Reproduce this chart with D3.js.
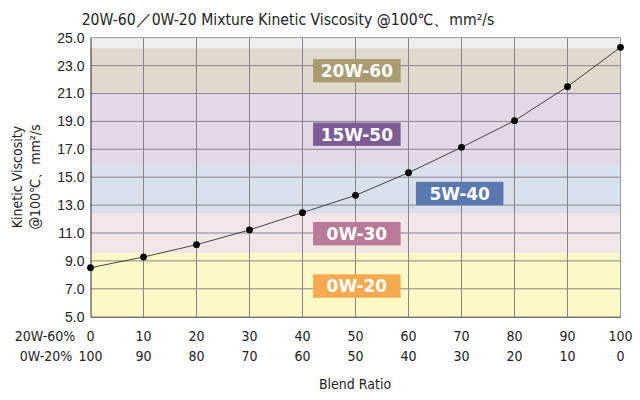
<!DOCTYPE html>
<html><head><meta charset="utf-8">
<script src="https://cdn.jsdelivr.net/npm/d3@7"></script>
<style>
html,body{margin:0;padding:0;background:#fff;}
svg{display:block;font-family:"DejaVu Sans Condensed","DejaVu Sans",Verdana,sans-serif;}
</style></head>
<body><svg id="c" width="640" height="400"></svg>
<script>
// ---- data ----
const ratio20W60 = [0,10,20,30,40,50,60,70,80,90,100];
const ratio0W20 = [100,90,80,70,60,50,40,30,20,10,0];
const viscosity = [8.51,9.28,10.16,11.22,12.46,13.70,15.32,17.14,19.05,21.49,24.31];
const yTicks = [5,7,9,11,13,15,17,19,21,23,25];
const bandNames = ["0W-20","0W-30","5W-40","15W-50","20W-60"];
const bandLow = [5.0,9.58,12.41,15.87,21.08];
const bandHigh = [9.58,12.41,15.87,21.08,24.24];
const bandFill = ["#fdf9c6","#f3e6e8","#d9e1ec","#e4d8e8","#e1d9cb"];
const labelFill = ["#f5aa50","#b97a9a","#5b78b1","#7c5d96","#a99b72"];
// label box anchor (left edge on blend axis, y value at box centre)
const labelX = [42,42,61.4,42,42];
const labelY = [7.2,10.95,13.83,18.08,22.63];

const svg = d3.select("#c");
const m = {l:90.5, r:620.5, t:37.7, b:316.7};
const x = d3.scaleLinear().domain([0,100]).range([m.l,m.r]);
const y = d3.scaleLinear().domain([5,25]).range([m.b,m.t]);

// plot background
svg.append("rect").attr("x",m.l).attr("y",m.t).attr("width",m.r-m.l).attr("height",m.b-m.t).attr("fill","#efefef");
// bands
svg.selectAll("rect.band").data(bandNames).join("rect").attr("class","band")
  .attr("x",m.l).attr("width",m.r-m.l)
  .attr("y",(d,i)=>y(bandHigh[i])).attr("height",(d,i)=>y(bandLow[i])-y(bandHigh[i]))
  .attr("fill",(d,i)=>bandFill[i]);

// grid
svg.append("g").selectAll("line").data(yTicks.slice(1,-1)).join("line")
  .attr("x1",m.l).attr("x2",m.r).attr("y1",d=>y(d)).attr("y2",d=>y(d))
  .attr("stroke","#8a8490").attr("stroke-width",1);
svg.append("g").selectAll("line").data(ratio20W60.slice(1,-1)).join("line")
  .attr("y1",m.t).attr("y2",m.b).attr("x1",d=>x(d)).attr("x2",d=>x(d))
  .attr("stroke","#8a8490").attr("stroke-width",1);
// frame
svg.append("line").attr("x1",m.l).attr("x2",m.r).attr("y1",m.t).attr("y2",m.t).attr("stroke","#9a9a9a");
svg.append("line").attr("x1",m.r).attr("x2",m.r).attr("y1",m.t).attr("y2",m.b).attr("stroke","#9a9a9a");

// label boxes
const lg = svg.append("g").selectAll("g").data(bandNames).join("g");
lg.append("rect").attr("x",(d,i)=>x(labelX[i])).attr("y",(d,i)=>y(labelY[i])-11.7)
  .attr("width",87.5).attr("height",23.4).attr("fill",(d,i)=>labelFill[i]);
lg.append("text").attr("x",(d,i)=>x(labelX[i])+43.75).attr("y",(d,i)=>y(labelY[i])+6.3)
  .attr("text-anchor","middle").attr("fill","#fff").attr("font-weight","bold")
  .attr("font-size",17).attr("font-family","'DejaVu Sans',Verdana,sans-serif").text(d=>d);

// axes
const yAxis = svg.append("g").attr("transform",`translate(${m.l},0)`)
  .call(d3.axisLeft(y).tickValues(yTicks).tickFormat(d3.format(".1f")).tickSize(0).tickPadding(6));
yAxis.select(".domain").attr("stroke","#333");
yAxis.selectAll("text").attr("font-size",14).attr("fill","#222").attr("font-family",null);
const xAxis = svg.append("g").attr("transform",`translate(0,${m.b})`)
  .call(d3.axisBottom(x).tickValues(ratio20W60).tickFormat("").tickSize(0));
xAxis.select(".domain").attr("stroke","#333");

// line + points
svg.append("path").datum(viscosity)
  .attr("d",d3.line().x((d,i)=>x(ratio20W60[i])).y(d=>y(d)))
  .attr("fill","none").attr("stroke","#333").attr("stroke-width",0.9);
svg.append("g").selectAll("circle").data(viscosity).join("circle")
  .attr("cx",(d,i)=>x(ratio20W60[i])).attr("cy",d=>y(d)).attr("r",3.4).attr("fill","#000");

// x tick rows
const rows = svg.append("g").attr("font-size",14).attr("fill","#222");
rows.selectAll("text.r1").data(ratio20W60).join("text").attr("class","r1")
  .attr("x",d=>x(d)).attr("y",341).attr("text-anchor","middle").text(d=>d);
rows.selectAll("text.r2").data(ratio0W20).join("text").attr("class","r2")
  .attr("x",(d,i)=>x(ratio20W60[i])).attr("y",361).attr("text-anchor","middle").text(d=>d);
rows.append("text").attr("x",45).attr("y",341).attr("text-anchor","middle").text("20W-60%");
rows.append("text").attr("x",46).attr("y",361).attr("text-anchor","middle").text("0W-20%");
rows.append("text").attr("x",355).attr("y",389).attr("text-anchor","middle").text("Blend Ratio");

// y title
const yt = svg.append("text").attr("transform","translate(22,177) rotate(-90)")
  .attr("text-anchor","middle").attr("font-size",14).attr("fill","#222");
yt.append("tspan").attr("x",0).attr("dy",0).text("Kinetic Viscosity");
yt.append("tspan").attr("x",0).attr("dy",18).text("@100℃、mm²/s");

// title
svg.append("text").attr("x",288).attr("y",25).attr("text-anchor","middle")
  .attr("font-size",15.6).attr("fill","#222").text("20W-60／0W-20 Mixture Kinetic Viscosity @100℃、mm²/s");
</script></body></html>
